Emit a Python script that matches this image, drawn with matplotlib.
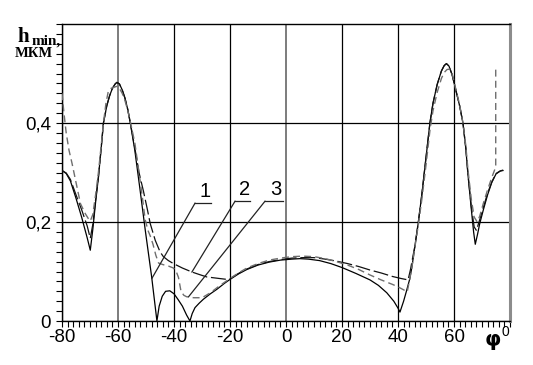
import matplotlib
matplotlib.use("Agg")
import matplotlib.pyplot as plt
from matplotlib.ticker import MultipleLocator

# ---------------- data ----------------
phi1 = [-80, -78.5, -77, -75, -73, -71, -69.9, -69, -68, -67, -66, -65.2, -64, -63, -62, -61,
        -60.4, -59.5, -58.5, -57.5, -56.5, -55.6, -54, -52.1, -50.3, -48, -46.1, -45.3, -44.2,
        -43, -41.5, -40, -38.5, -37, -35.5, -34.3, -33.5, -32.5, -31, -29.5, -27, -24.7, -22,
        -20, -17, -14, -10, -6, -2, 2, 5, 8, 12, 16, 20, 25, 30, 33, 36, 38.5, 40, 40.7, 42, 43,
        44.2, 45, 46, 47.2, 48.5, 50, 51.4, 52.5, 54, 55.5, 56.5, 57.3, 58.2, 59.3, 60.5, 62,
        63.2, 64.2, 65, 66.2, 67.0, 67.6, 68.4, 69.2, 70.5, 72, 73.5, 75, 76.5, 77.5]
h1 = [0.304, 0.298, 0.283, 0.248, 0.21, 0.168, 0.143, 0.185, 0.24, 0.29, 0.35, 0.40, 0.435,
      0.455, 0.47, 0.479, 0.482, 0.479, 0.467, 0.45, 0.427, 0.40, 0.345, 0.264, 0.185, 0.09,
      0.0, 0.03, 0.05, 0.06, 0.061, 0.055, 0.043, 0.03, 0.012, 0.0, 0.015, 0.027, 0.036,
      0.044, 0.055, 0.064, 0.076, 0.084, 0.095, 0.104, 0.113, 0.119, 0.123, 0.125, 0.126,
      0.125, 0.122, 0.116, 0.108, 0.096, 0.083, 0.072, 0.057, 0.04, 0.026, 0.018, 0.04, 0.06,
      0.085, 0.11, 0.15, 0.197, 0.255, 0.33, 0.40, 0.44, 0.478, 0.505, 0.516, 0.52, 0.515,
      0.498, 0.47, 0.435, 0.40, 0.35, 0.295, 0.225, 0.18, 0.155, 0.175, 0.197, 0.225, 0.255,
      0.28, 0.297, 0.303, 0.304]

phi2 = [-80, -78.5, -77, -75, -73, -71, -69.9, -69, -68, -67, -66, -65.2, -64, -63, -62, -61,
        -60.4, -59.5, -58.5, -57.5, -56.5, -55.6, -54, -52.5, -50.9, -49.5, -48.5, -46.7, -45,
        -43.8, -42, -40.2, -37, -33.6, -31, -28.3, -24, -21, -20, -17, -14, -10, -6, -2, 2, 6,
        10, 14, 18, 22, 26, 30, 34, 38, 41, 43.6, 44.5, 45.3, 46, 47.2, 48.5, 50, 51.4, 52.5,
        54, 55.5, 56.5, 57.3, 58.2, 59.3, 60.5, 62, 63.2, 64.2, 65, 66.2, 67.2, 68, 69.2, 70.5,
        72, 73.5, 75, 76.5, 77.5]
h2 = [0.304, 0.299, 0.286, 0.255, 0.225, 0.192, 0.167, 0.195, 0.245, 0.29, 0.35, 0.40, 0.435,
      0.455, 0.47, 0.479, 0.482, 0.479, 0.467, 0.45, 0.427, 0.40, 0.35, 0.30, 0.262, 0.225,
      0.197, 0.163, 0.14, 0.13, 0.122, 0.116, 0.107, 0.099, 0.094, 0.089, 0.086, 0.084, 0.085,
      0.096, 0.105, 0.114, 0.12, 0.124, 0.127, 0.128, 0.128, 0.125, 0.121, 0.116, 0.11, 0.103,
      0.097, 0.09, 0.086, 0.083, 0.105, 0.13, 0.15, 0.197, 0.255, 0.33, 0.40, 0.44, 0.478,
      0.505, 0.516, 0.52, 0.515, 0.498, 0.47, 0.435, 0.40, 0.35, 0.296, 0.23, 0.19, 0.183,
      0.205, 0.23, 0.258, 0.281, 0.298, 0.303, 0.305]

phi3 = [-80, -79.3, -78.5, -77.5, -76.4, -75, -73.4, -71.7, -70.5, -69.9, -69, -68, -67, -66,
        -65.2, -64.3, -63.5, -62.5, -61.5, -60.5, -59.5, -58.5, -57.5, -56.5, -55.5, -54,
        -52.5, -51.3, -50.3, -49.3, -48.5, -47.5, -46.5, -45.5, -44, -42, -40.2, -39.2, -38.4,
        -37.5, -36.5, -35.5, -33, -30, -27, -24, -21, -20, -17, -14, -10, -6, -2, 2, 6, 10, 14,
        18, 22, 26, 30, 34, 38, 40, 42, 43.3, 44.2, 45, 46, 47.2, 48.5, 50, 51.4, 52.5, 54,
        55.5, 56.5, 57.5, 58.5, 59.5, 60.5, 62, 63.2, 64.2, 65, 66.2, 67.2, 68.3, 69.2, 70.5,
        72, 73.5, 74.5, 74.9, 74.9]
h3 = [0.46, 0.42, 0.38, 0.345, 0.318, 0.28, 0.237, 0.217, 0.206, 0.202, 0.215, 0.255, 0.30,
      0.355, 0.40, 0.44, 0.463, 0.47, 0.472, 0.474, 0.47, 0.46, 0.445, 0.425, 0.40, 0.36, 0.30,
      0.25, 0.205, 0.183, 0.172, 0.155, 0.133, 0.117, 0.114, 0.111, 0.107, 0.10, 0.088, 0.06,
      0.052, 0.049, 0.047, 0.047, 0.057, 0.07, 0.082, 0.086, 0.097, 0.107, 0.116, 0.123, 0.127,
      0.13, 0.131, 0.13, 0.126, 0.12, 0.113, 0.104, 0.093, 0.083, 0.074, 0.069, 0.063, 0.059,
      0.085, 0.11, 0.148, 0.192, 0.245, 0.315, 0.385, 0.425, 0.462, 0.49, 0.502, 0.508, 0.509,
      0.496, 0.472, 0.437, 0.40, 0.355, 0.305, 0.245, 0.21, 0.20, 0.212, 0.238, 0.265, 0.29,
      0.305, 0.311, 0.516]

x_ticks = [-80, -60, -40, -20, 0, 20, 40, 60]
x_ticklabels = ["-80", "-60", "-40", "-20", "0", "20", "40", "60"]
y_ticks = [0.0, 0.2, 0.4]
y_ticklabels = ["0", "0,2", "0,4"]
curve_labels = ["1", "2", "3"]

# ---------------- figure ----------------
W, H = 533, 365
fig = plt.figure(figsize=(W / 100, H / 100), dpi=100)
fig.patch.set_facecolor("white")
ax = fig.add_axes([62 / W, 44 / H, 448 / W, 297 / H])
ax.set_xlim(-80, 80)
ax.set_ylim(0, 0.6)

ax.set_xticks(x_ticks)
ax.set_xticklabels(x_ticklabels)
ax.xaxis.set_minor_locator(MultipleLocator(2))
ax.set_yticks(y_ticks)
ax.set_yticklabels(y_ticklabels)
ax.yaxis.set_minor_locator(MultipleLocator(0.02))
ax.tick_params(which="both", direction="out", length=4, width=0.8, color="black")
ax.tick_params(axis="x", which="major", labelsize=13.5, pad=2)
ax.tick_params(axis="y", which="major", labelsize=13.5, pad=4)
for lab in ax.get_xticklabels() + ax.get_yticklabels():
    lab.set_family("Liberation Sans")

ax.grid(True, which="major", color="black", lw=0.9)
ax.set_axisbelow(True)
for gl, xv in zip(ax.get_xgridlines(), x_ticks):
    if xv in (-60, 0):
        gl.set_color("#666666")
        gl.set_linewidth(1.2)

for s in ["left", "bottom", "top"]:
    ax.spines[s].set_color("black")
    ax.spines[s].set_linewidth(1.0)
ax.spines["right"].set_color("#8c8c8c")
ax.spines["right"].set_linewidth(2.2)

ax.plot(phi1, h1, color="black", lw=0.9, zorder=3)
ax.plot(phi2, h2, color="#111111", lw=0.9, dashes=(12, 3), zorder=3)
ax.plot(phi3, h3, color="#6e6e6e", lw=1.0, dashes=(5, 3), zorder=3)

# leader lines with labels
targets = [(-47.9, 0.086), (-33.6, 0.099), (-34.8, 0.049)]
starts = [(-32.5, 0.238), (-18.2, 0.242), (-7.5, 0.242)]
ul_len = [5.8, 5.4, 6.4]
for lab, (tx, ty), (sx, sy), ul in zip(curve_labels, targets, starts, ul_len):
    ax.plot([tx, sx], [ty, sy], color="#222222", lw=0.9, zorder=4)
    ax.plot([sx, sx + ul], [sy, sy], color="#222222", lw=0.9, zorder=4)
    ax.text(sx + ul / 2 + 0.6, sy + 0.005, lab, ha="center", va="bottom",
            fontsize=14.5, family="Liberation Sans", zorder=5)

# axis titles
fig.text(17 / W, 1 - 42 / H, "h", fontsize=15, fontweight="bold",
         family="Liberation Serif", va="baseline", ha="left")
fig.text(31.5 / W, 1 - 45 / H, "min,", fontsize=11, fontweight="bold",
         family="Liberation Serif", va="baseline", ha="left")
fig.text(15 / W, 1 - 57 / H, "МКМ", fontsize=10.5, fontweight="bold",
         family="Liberation Serif", va="baseline", ha="left")
fig.text(485 / W, 1 - 346 / H, "φ", fontsize=15, fontweight="bold",
         family="DejaVu Sans", va="baseline", ha="left")
fig.text(502 / W, 1 - 336 / H, "0", fontsize=10,
         family="Liberation Sans", va="baseline", ha="left")

fig.savefig("out.png", dpi=100)
